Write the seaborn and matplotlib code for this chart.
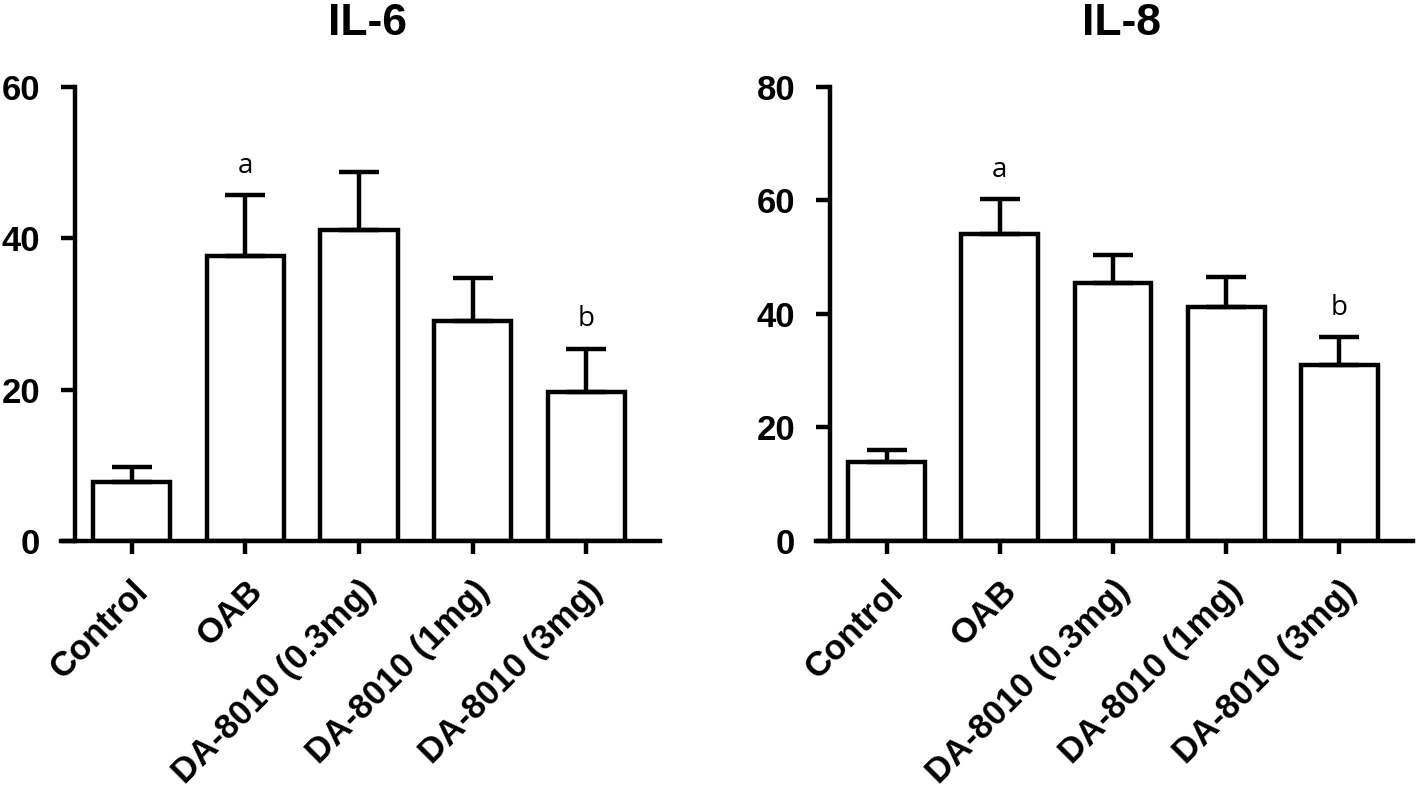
import matplotlib
matplotlib.use("Agg")
import matplotlib.pyplot as plt
import seaborn as sns
import pandas as pd
import numpy as np

groups = ["Control", "OAB", "DA-8010 (0.3mg)", "DA-8010 (1mg)", "DA-8010 (3mg)"]
il6_mean = [7.8, 37.6, 41.1, 29.1, 19.7]
il6_sem = [2.0, 8.1, 7.7, 5.6, 5.7]
il8_mean = [13.9, 54.0, 45.4, 41.2, 31.0]
il8_sem = [2.2, 6.2, 5.0, 5.3, 4.9]
il6_marks = ["", "a", "", "", "b"]
il8_marks = ["", "a", "", "", "b"]

sns.set_theme(style="ticks")
plt.rcParams["font.family"] = ["Liberation Sans", "DejaVu Sans"]
plt.rcParams["text.color"] = "black"

fig = plt.figure(figsize=(14.18, 7.9), dpi=100)
W, H = 1418, 790
ax1 = fig.add_axes([75 / W, 1 - 541 / H, 585 / W, (541 - 86.7) / H])
ax2 = fig.add_axes([830 / W, 1 - 541 / H, 583 / W, (541 - 86.7) / H])

LW = 3.2

def panel(ax, title, means, sems, marks, ymax, yticks):
    df = pd.DataFrame({"group": groups, "value": means})
    sns.barplot(data=df, x="group", y="value", ax=ax, color="white",
                edgecolor="black", linewidth=LW, width=0.68, errorbar=None,
                saturation=1)
    x = np.arange(len(groups))
    ax.errorbar(x, means, yerr=[np.zeros(len(sems)), sems], fmt="none",
                ecolor="black", elinewidth=LW, capsize=14.5, capthick=LW,
                zorder=1)
    for xi, m, s, t in zip(x, means, sems, marks):
        if t:
            ax.annotate(t, (xi, m + s), xytext=(0, 11), textcoords="offset points",
                        ha="center", va="bottom", fontsize=20, color="black",
                        family=["Open Sans", "DejaVu Sans"])
    ax.set_xlim(-0.50, 4.65)
    ax.set_ylim(0, ymax)
    ax.set_yticks(yticks)
    ax.set_xlabel("")
    ax.set_ylabel("")
    ax.set_title(title, fontsize=32, fontweight="bold", pad=37, color="black")
    for s in ["top", "right"]:
        ax.spines[s].set_visible(False)
    for s in ["left", "bottom"]:
        ax.spines[s].set_linewidth(LW)
        ax.spines[s].set_color("black")
    ax.spines["bottom"].set_bounds(-0.50 - 14 / 113, 4.65)
    ax.tick_params(axis="y", length=10, width=LW, pad=15, labelsize=25, colors="black")
    ax.tick_params(axis="x", length=9, width=LW, pad=15, labelsize=25, colors="black")
    for lab in ax.get_yticklabels():
        lab.set_fontweight("bold")
    ax.set_xticks(x)
    ax.set_xticklabels(groups, rotation=45, ha="right", rotation_mode="anchor",
                       fontweight="bold")

panel(ax1, "IL-6", il6_mean, il6_sem, il6_marks, 60, [0, 20, 40, 60])
panel(ax2, "IL-8", il8_mean, il8_sem, il8_marks, 80, [0, 20, 40, 60, 80])

fig.savefig("out.png", dpi=100, facecolor="white")
